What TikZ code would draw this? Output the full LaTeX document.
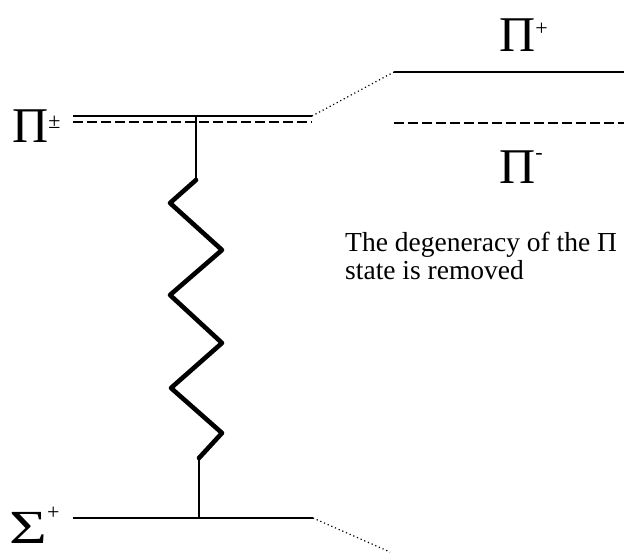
\documentclass[tikz,border=0pt]{standalone}
\usepackage{fontspec}
\setmainfont{Liberation Serif}
\usepackage{graphicx}
\usetikzlibrary{positioning}
\newcommand{\statelbl}[3]{{\fontsize{50}{50}\selectfont #1\raisebox{#3}{\fontsize{22}{22}\selectfont #2}}}

\begin{document}
\begin{tikzpicture}[x=1pt,y=-1pt,
    level/.style={line width=2.8pt},
    splitlvl/.style={line width=2.8pt,dash pattern=on 10pt off 4pt},
    spring/.style={line width=4.6pt,line join=round,line cap=round},
    link/.style={line width=1.3pt},
    corr/.style={line width=1.2pt,dash pattern=on 1.2pt off 2.8pt}]
  \useasboundingbox (0,0) rectangle (624,554);
  % degenerate Pi level
  \node[anchor=base west,inner sep=0pt] (pipm) at (12,142) {\statelbl{Π}{±}{14pt}};
  \coordinate (pil) at (73,116);  \coordinate (pir) at (312,116);
  \coordinate (pidl) at (73,122); \coordinate (pidr) at (312,122);
  \draw[level] (pil) -- (pir);
  \draw[splitlvl] (pidl) -- (pidr);
  % Sigma level
  \node[anchor=base west,inner sep=0pt,text depth=0pt] (sig) at (9,543) {\scalebox{1.3}[0.95]{\statelbl{Σ}{}{0pt}}\raisebox{24pt}{\fontsize{22}{22}\selectfont +}};
  \coordinate (sgl) at (73,518); \coordinate (sgr) at (313,518);
  \draw[level] (sgl) -- (sgr);
  % split levels
  \node[anchor=base west,inner sep=0pt] (piplus) at (499,51) {\statelbl{Π}{+}{16pt}};
  \node[anchor=base west,inner sep=0pt] (piminus) at (499,183) {\statelbl{Π}{-}{24pt}};
  \coordinate (upl) at (394,72);  \coordinate (upr) at (624,72);
  \coordinate (lol) at (394,123); \coordinate (lor) at (624,123);
  \draw[level] (upl) -- (upr);
  \draw[splitlvl] (lol) -- (lor);
  % correlation lines
  \coordinate (sgend) at (390,552);
  \draw[corr] (pir) -- (upl);
  \draw[corr] (sgr) -- (sgend);
  % coupling
  \coordinate (spa) at (196,180); \coordinate (spb) at (199,458);
  \draw[link] (196,116) -- (spa);
  \draw[spring] (spa) -- (170,203) -- (222,250) -- (170,295) -- (222,343)
    -- (171,388) -- (222,433) -- (spb);
  \draw[link] (spb) -- (199,518);
  \node[anchor=north west,align=left,inner sep=0pt,font=\fontsize{27.5}{28}\selectfont] (note) at (345,232)
    {The degeneracy of the Π\\state is removed};
\end{tikzpicture}
\end{document}
